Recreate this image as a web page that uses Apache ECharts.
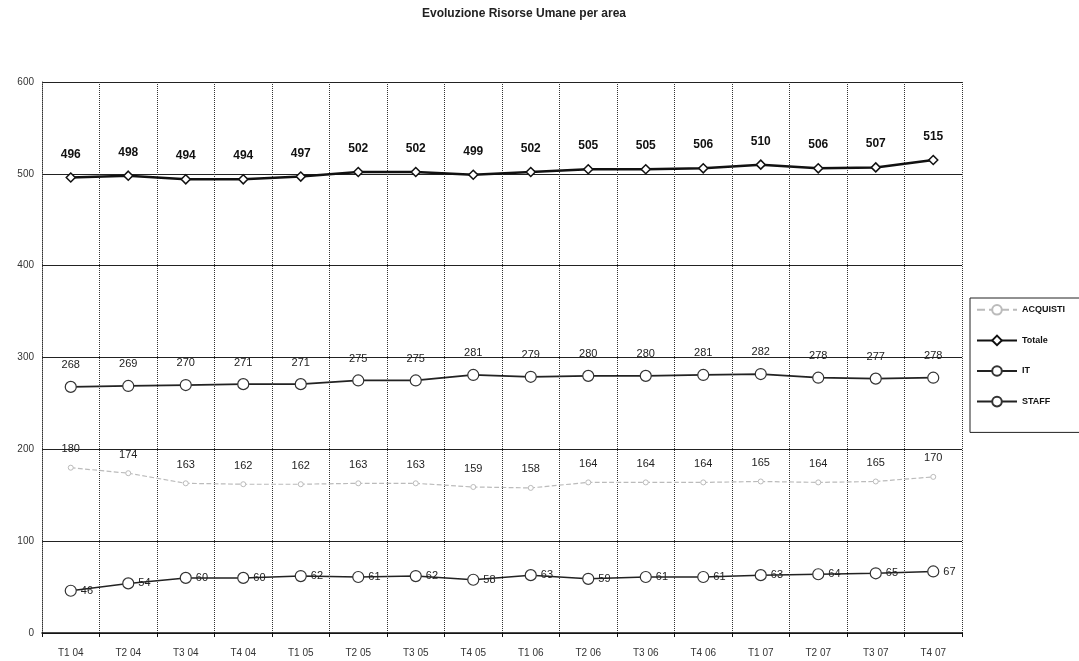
<!DOCTYPE html>
<html>
<head>
<meta charset="utf-8">
<script src="https://cdn.jsdelivr.net/npm/echarts@6/dist/echarts.min.js"></script>
<style>
  html, body { margin: 0; padding: 0; background: #fff; }
  #chart { width: 1079px; height: 661px; }
</style>
</head>
<body>
<div id="chart"></div>
<script>
// Quarterly headcount by area
const quarters = ['T1 04','T2 04','T3 04','T4 04','T1 05','T2 05','T3 05','T4 05',
                  'T1 06','T2 06','T3 06','T4 06','T1 07','T2 07','T3 07','T4 07'];
const acquisti = [180,174,163,162,162,163,163,159,158,164,164,164,165,164,165,170];
const totale   = [496,498,494,494,497,502,502,499,502,505,505,506,510,506,507,515];
const it       = [268,269,270,271,271,275,275,281,279,280,280,281,282,278,277,278];
const staff    = [46,54,60,60,62,61,62,58,63,59,61,61,63,64,65,67];
const yTicks   = [0,100,200,300,400,500,600];

const font = 'Liberation Sans, Arial, sans-serif';
const chart = echarts.init(document.getElementById('chart'), null, { renderer: 'canvas' });

chart.setOption({
  backgroundColor: '#fff',
  animation: false,
  title: {
    text: 'Evoluzione Risorse Umane per area',
    left: 519, top: 3, textAlign: 'center',
    textStyle: { fontFamily: font, fontSize: 12, fontWeight: 'bold', color: '#222' }
  },
  legend: {
    orient: 'vertical',
    left: 970, top: 298,
    padding: [6, 20, 25, 6],
    itemGap: 19,
    itemWidth: 40, itemHeight: 12,
    borderColor: '#222', borderWidth: 1,
    backgroundColor: '#fff',
    textStyle: { fontFamily: font, fontSize: 9, fontWeight: 'bold', color: '#111' },
    data: ['ACQUISTI', 'Totale', 'IT', 'STAFF']
  },
  grid: { left: 42, right: 117, top: 82, bottom: 28 },
  xAxis: {
    type: 'category',
    data: quarters,
    boundaryGap: true,
    axisLine: { lineStyle: { color: '#111', width: 1.5 } },
    axisTick: { show: true, length: 4, lineStyle: { color: '#111' } },
    axisLabel: { fontFamily: font, fontSize: 10, color: '#333', margin: 15 },
    splitLine: { show: true, lineStyle: { color: '#333', type: 'dotted', width: 1 } }
  },
  yAxis: {
    type: 'value',
    min: yTicks[0], max: yTicks[yTicks.length - 1], interval: 100,
    axisLine: { show: true, lineStyle: { color: '#333', type: 'dotted' } },
    axisTick: { show: false },
    axisLabel: { fontFamily: font, fontSize: 10, color: '#333', margin: 8 },
    splitLine: { show: true, lineStyle: { color: '#222', width: 1 } }
  },
  series: [
    {
      name: 'ACQUISTI', type: 'line', data: acquisti,
      symbol: 'circle', symbolSize: 5,
      lineStyle: { color: '#bbb', width: 1.2, type: 'dashed' },
      itemStyle: { color: '#fff', borderColor: '#bbb', borderWidth: 1 },
      label: { show: true, position: 'top', distance: 10,
               fontFamily: font, fontSize: 11, color: '#222' }
    },
    {
      name: 'Totale', type: 'line', data: totale,
      symbol: 'diamond', symbolSize: 9,
      lineStyle: { color: '#111', width: 2.5 },
      itemStyle: { color: '#fff', borderColor: '#111', borderWidth: 1.5 },
      label: { show: true, position: 'top', distance: 12,
               fontFamily: font, fontSize: 12, fontWeight: 'bold', color: '#111' }
    },
    {
      name: 'IT', type: 'line', data: it,
      symbol: 'circle', symbolSize: 11,
      lineStyle: { color: '#222', width: 1.8 },
      itemStyle: { color: '#fff', borderColor: '#333', borderWidth: 1.2 },
      label: { show: true, position: 'top', distance: 10,
               fontFamily: font, fontSize: 11, color: '#222' }
    },
    {
      name: 'STAFF', type: 'line', data: staff,
      symbol: 'circle', symbolSize: 11,
      lineStyle: { color: '#222', width: 1.5 },
      itemStyle: { color: '#fff', borderColor: '#333', borderWidth: 1.2 },
      label: { show: true, position: 'right', distance: 4,
               fontFamily: font, fontSize: 11, color: '#222' }
    }
  ]
});
</script>
</body>
</html>
